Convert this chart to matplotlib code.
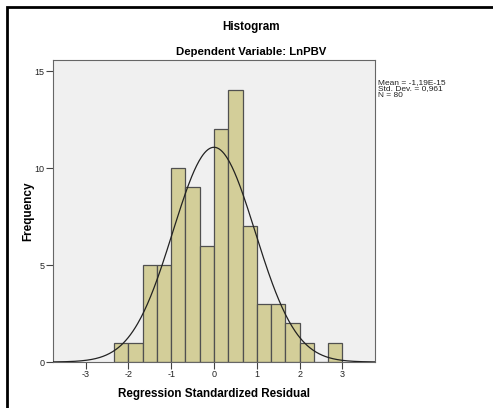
import numpy as np
import matplotlib
matplotlib.use("Agg")
import matplotlib.pyplot as plt
from matplotlib.patches import Rectangle

plt.rcParams["font.family"] = ["Liberation Sans", "DejaVu Sans"]

# Data
bin_edges = [-7/3, -2, -5/3, -4/3, -1, -2/3, -1/3, 0, 1/3, 2/3, 1, 4/3, 5/3, 2, 7/3, 8/3, 3]
counts = [1, 1, 5, 5, 10, 9, 6, 12, 14, 7, 3, 3, 2, 1, 0, 1]
mean_val = -1.19e-15
std_dev = 0.961
n_obs = 80
x_ticks = [-3, -2, -1, 0, 1, 2, 3]
y_ticks = [0, 5, 10, 15]
stats_lines = ["Mean = -1,19E-15", "Std. Dev. = 0,961", "N = 80"]

W, H = 493, 408
fig = plt.figure(figsize=(W/100, H/100), dpi=100)
fig.patch.set_facecolor("white")

# outer frame
fig.patches.append(Rectangle((7/W, -0.1), 1.2, 1 - 7/H + 0.1, transform=fig.transFigure,
                             fill=False, edgecolor="black", linewidth=2))

ax = fig.add_axes([53/W, 1 - 362/H, (375-53)/W, (362-60)/H])
ax.set_facecolor("#F0F0F0")

widths = np.diff(bin_edges)
ax.bar(bin_edges[:-1], counts, width=widths, align="edge", color="#D3CE99",
       edgecolor="#505050", linewidth=0.9, zorder=2)

xs = np.linspace(-3.76, 3.76, 400)
bw = widths[0]
ys = n_obs * bw / (std_dev * np.sqrt(2*np.pi)) * np.exp(-0.5*((xs-mean_val)/std_dev)**2)
ax.plot(xs, ys, color="#222222", linewidth=0.9, zorder=3)

ax.set_xlim(-3.76, 3.76)
ax.set_ylim(0, 15.57)
ax.set_xticks(x_ticks)
ax.set_yticks(y_ticks)
ax.set_xticklabels([str(t) for t in x_ticks])
ax.set_yticklabels([str(t) for t in y_ticks])
ax.tick_params(direction="out", length=5, width=0.8, colors="#444444", labelsize=6.5, pad=1)
ax.tick_params(labelcolor="#222222")
for s in ax.spines.values():
    s.set_color("#666666")
    s.set_linewidth(0.8)

ax.set_xlabel("Regression Standardized Residual", fontsize=8.4, fontweight="bold", labelpad=6)
ax.set_ylabel("Frequency", fontsize=8.5, fontweight="bold", labelpad=0.5)

fig.text(251/W, 1 - 27/H, "Histogram", ha="center", va="center", fontsize=8.4, fontweight="bold")
fig.text(251/W, 1 - 52/H, "Dependent Variable: LnPBV", ha="center", va="center", fontsize=8.2, fontweight="bold")

for i, line in enumerate(stats_lines):
    fig.text(378/W, 1 - (82.5 + 6.4*i)/H, line, ha="left", va="center",
             fontsize=6.0, color="#222222")

fig.savefig("out.png", dpi=100)
